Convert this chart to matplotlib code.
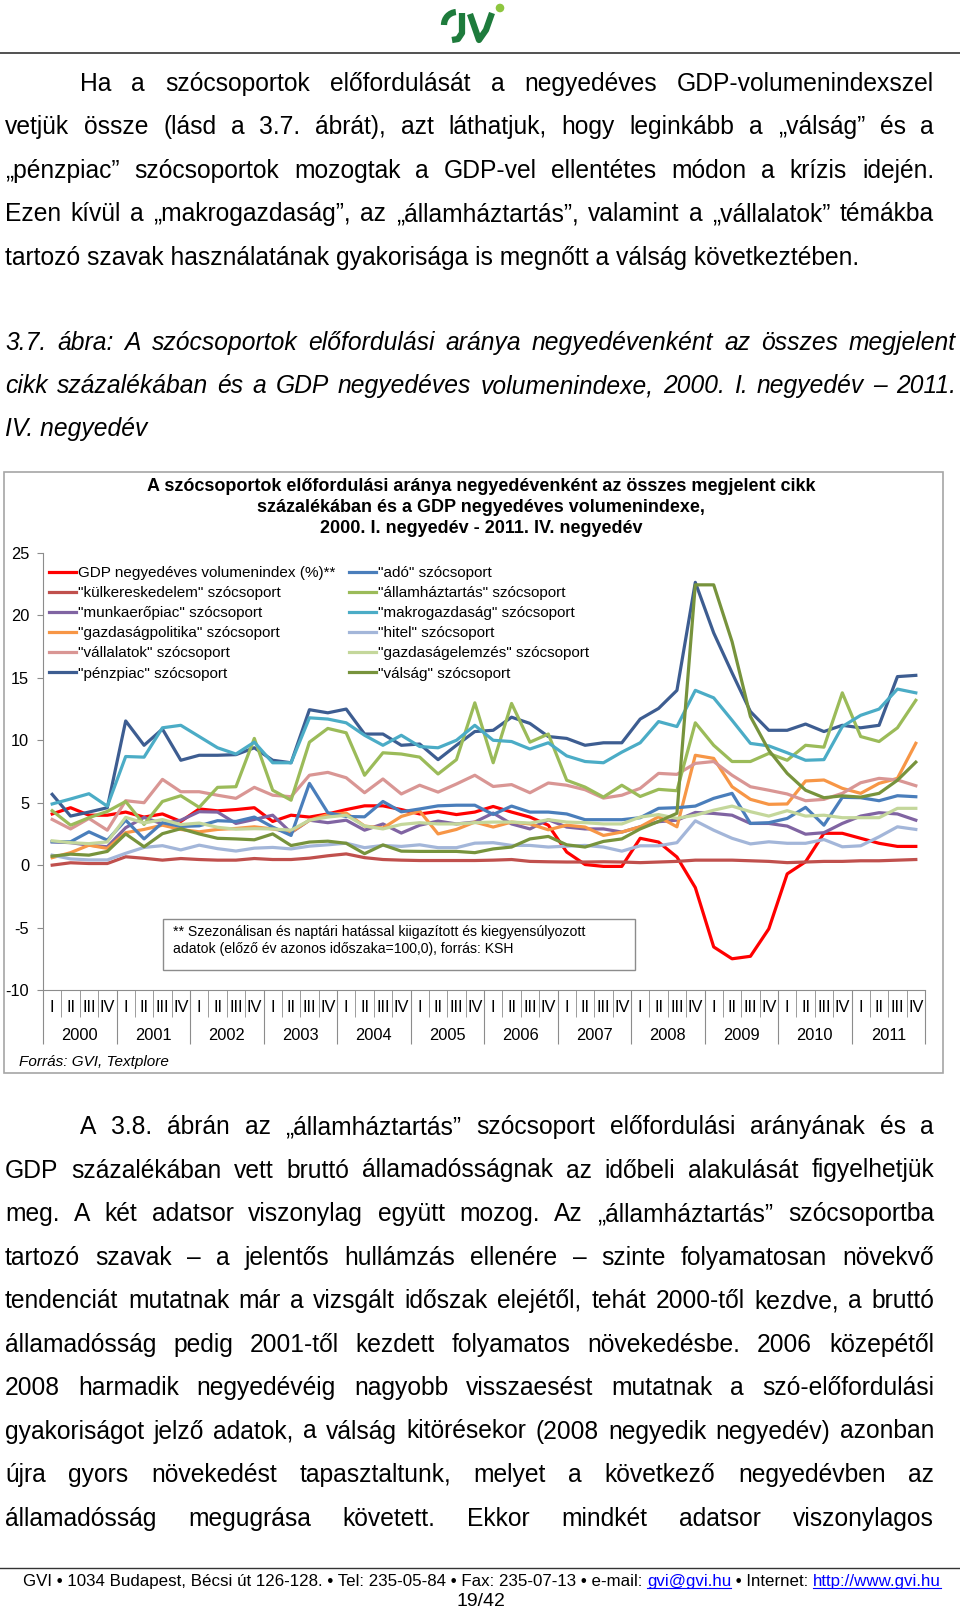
import matplotlib
matplotlib.use('Agg')
import matplotlib.pyplot as plt
from matplotlib.patches import Rectangle, Arc, Circle
from matplotlib.lines import Line2D
import matplotlib.transforms as mtransforms

plt.rcParams['font.family'] = ['Liberation Sans', 'DejaVu Sans']

W, H = 960, 1610

# ---- data ----
quarters = ['I', 'II', 'III', 'IV']
years = [str(y) for y in range(2000, 2012)]

gdp_index = [4.1, 4.6, 4.0, 4.0, 4.25, 3.85, 4.1, 3.5, 4.5, 4.35, 4.45, 4.6, 3.5, 4.0, 3.85, 4.1,
             4.45, 4.75, 4.75, 4.45, 4.1, 4.3, 4.05, 4.25, 4.7, 4.25, 3.85, 3.2, 1.05, 0.05, -0.1, -0.1,
             2.15, 1.85, 0.65, -1.8, -6.55, -7.5, -7.3, -5.1, -0.7, 0.27, 2.55, 2.55, 2.15, 1.75, 1.5, 1.5]
kulker = [0.0, 0.19, 0.13, 0.13, 0.67, 0.55, 0.4, 0.53, 0.45, 0.4, 0.4, 0.53, 0.45, 0.45, 0.56, 0.75,
          0.9, 0.6, 0.45, 0.4, 0.37, 0.37, 0.37, 0.37, 0.4, 0.45, 0.3, 0.27, 0.25, 0.25, 0.27, 0.25,
          0.2, 0.25, 0.3, 0.4, 0.4, 0.4, 0.35, 0.3, 0.2, 0.25, 0.3, 0.3, 0.35, 0.35, 0.4, 0.45]
munkaeropiac = [1.87, 1.8, 1.6, 1.47, 3.0, 3.82, 3.3, 3.6, 4.28, 4.25, 3.34, 3.66, 4.0, 2.6, 3.6, 3.4,
                3.6, 2.8, 3.3, 2.57, 3.2, 3.53, 3.3, 3.45, 4.17, 3.3, 2.9, 3.64, 3.05, 2.9, 2.9, 2.65,
                3.07, 3.48, 3.6, 4.22, 4.14, 4.0, 3.34, 3.34, 3.13, 2.48, 2.6, 3.34, 3.93, 4.2, 4.1, 3.6]
gazdpolitika = [0.6, 1.0, 1.6, 1.34, 2.6, 2.86, 3.2, 2.86, 2.67, 2.86, 2.94, 3.07, 2.9, 2.65, 3.6, 4.05,
                4.17, 3.13, 2.97, 3.9, 4.33, 2.5, 2.86, 3.45, 3.05, 3.45, 3.3, 2.83, 3.2, 3.05, 2.38, 2.65,
                3.07, 3.87, 3.07, 8.8, 8.55, 6.28, 5.27, 4.87, 4.9, 6.74, 6.82, 6.15, 5.75, 6.55, 6.95, 9.76]
vallalatok = [3.66, 2.9, 3.74, 2.8, 5.16, 5.0, 6.87, 5.88, 5.88, 5.6, 5.35, 6.23, 5.6, 5.48, 7.2, 7.43,
              7.0, 5.8, 6.9, 5.7, 6.4, 5.85, 6.5, 7.2, 6.3, 6.45, 5.8, 6.58, 6.4, 6.04, 5.37, 5.6,
              6.15, 7.35, 7.27, 8.15, 8.3, 7.2, 6.28, 6.0, 5.7, 5.16, 5.27, 5.75, 6.6, 6.95, 6.82, 6.36]
penzpiac = [5.67, 3.93, 4.25, 4.6, 11.55, 9.6, 10.9, 8.4, 8.8, 8.8, 8.85, 9.4, 8.4, 8.2, 12.45, 12.2,
            12.5, 10.5, 10.5, 9.6, 9.7, 8.45, 9.6, 10.7, 10.8, 11.85, 11.35, 10.3, 10.15, 9.6, 9.8, 9.8,
            11.7, 12.55, 14.0, 22.65, 18.6, 15.4, 12.3, 10.8, 10.8, 11.3, 10.7, 11.2, 11.0, 11.2, 15.1, 15.2]
ado = [1.87, 1.87, 2.67, 2.0, 3.6, 2.1, 3.4, 3.1, 3.15, 3.56, 3.5, 3.85, 3.05, 2.38, 6.55, 4.2,
       3.9, 3.87, 5.1, 4.27, 4.5, 4.75, 4.8, 4.8, 4.06, 4.73, 4.25, 4.25, 4.1, 3.64, 3.64, 3.64,
       3.8, 4.55, 4.6, 4.73, 5.35, 5.75, 3.34, 3.4, 3.74, 4.63, 3.2, 5.43, 5.4, 5.16, 5.56, 5.48]
allamhaztartas = [4.36, 3.2, 3.8, 4.3, 5.1, 3.26, 5.1, 5.56, 4.63, 6.23, 6.28, 10.15, 6.0, 5.2, 9.85, 10.95,
                  10.6, 7.2, 9.0, 8.9, 8.65, 7.3, 8.45, 13.0, 8.2, 12.95, 9.85, 10.5, 6.8, 6.25, 5.45, 6.4,
                  5.5, 6.07, 5.96, 11.4, 9.6, 8.3, 8.3, 8.95, 8.4, 9.6, 9.45, 13.8, 10.3, 9.9, 11.0, 13.2]
makrogazdasag = [4.9, 5.3, 5.72, 4.72, 8.7, 8.65, 11.0, 11.2, 10.3, 9.4, 8.9, 9.85, 8.2, 8.2, 11.8, 11.7,
                 11.4, 10.4, 9.6, 10.4, 9.5, 9.4, 10.0, 11.2, 10.0, 9.9, 9.3, 9.8, 8.75, 8.3, 8.2, 9.05,
                 9.8, 11.5, 11.1, 14.0, 13.4, 11.6, 9.75, 9.55, 9.0, 8.4, 8.45, 11.1, 12.0, 12.5, 14.1, 13.8]
hitel = [0.8, 0.5, 0.42, 0.42, 0.95, 1.42, 1.56, 1.22, 1.6, 1.32, 1.13, 1.36, 1.42, 1.3, 1.52, 1.63,
         1.76, 1.4, 1.58, 1.5, 1.63, 1.4, 1.4, 1.76, 1.8, 1.58, 1.58, 1.45, 1.52, 1.58, 1.45, 1.12,
         1.55, 1.55, 1.8, 3.55, 2.8, 2.15, 1.7, 1.87, 1.75, 1.75, 2.05, 1.47, 1.55, 2.27, 3.07, 2.86]
gazdelemzes = [1.95, 1.8, 1.72, 1.86, 3.83, 3.37, 3.65, 3.25, 3.37, 3.03, 2.88, 2.92, 2.9, 2.8, 3.6, 3.85,
               4.0, 3.13, 2.9, 3.26, 3.4, 3.3, 3.3, 3.4, 3.45, 3.45, 3.37, 3.64, 3.45, 3.4, 3.3, 3.3,
               3.85, 4.05, 3.75, 4.0, 4.4, 4.73, 4.28, 3.93, 4.36, 3.93, 4.0, 3.8, 3.8, 3.8, 4.55, 4.55]
valsag = [0.72, 0.88, 0.8, 1.1, 2.5, 1.47, 2.52, 2.92, 2.5, 2.15, 2.1, 2.03, 2.5, 1.57, 1.85, 1.92,
          1.75, 0.92, 1.62, 1.12, 1.1, 1.1, 1.1, 1.0, 1.3, 1.45, 2.1, 2.3, 1.63, 1.45, 1.9, 2.1,
          2.9, 3.5, 4.15, 22.45, 22.45, 17.9, 11.9, 9.2, 7.35, 6.0, 5.4, 5.55, 5.45, 5.75, 6.8, 8.25]

series_names = ['GDP negyedéves volumenindex (%)**',
                '"külkereskedelem" szócsoport',
                '"munkaerőpiac" szócsoport',
                '"gazdaságpolitika" szócsoport',
                '"vállalatok" szócsoport',
                '"pénzpiac" szócsoport',
                '"adó" szócsoport',
                '"államháztartás" szócsoport',
                '"makrogazdaság" szócsoport',
                '"hitel" szócsoport',
                '"gazdaságelemzés" szócsoport',
                '"válság" szócsoport']
series_values = [gdp_index, kulker, munkaeropiac, gazdpolitika, vallalatok, penzpiac,
                 ado, allamhaztartas, makrogazdasag, hitel, gazdelemzes, valsag]
colors = ['#FF0000', '#C0504D', '#8064A2', '#F79646', '#D99694', '#3D5D91',
          '#4A7EBB', '#9BBB59', '#4BACC6', '#A3B6D9', '#C4D79B', '#77933C']

para1 = ['Ha a szócsoportok előfordulását a negyedéves GDP-volumenindexszel',
         'vetjük össze (lásd a 3.7. ábrát), azt láthatjuk, hogy leginkább a „válság” és a',
         '„pénzpiac” szócsoportok mozogtak a GDP-vel ellentétes módon a krízis idején.',
         'Ezen kívül a „makrogazdaság”, az „államháztartás”, valamint a „vállalatok” témákba',
         'tartozó szavak használatának gyakorisága is megnőtt a válság következtében.']
caption = ['3.7. ábra: A szócsoportok előfordulási aránya negyedévenként az összes megjelent',
           'cikk százalékában és a GDP negyedéves volumenindexe, 2000. I. negyedév – 2011.',
           'IV. negyedév']
para2 = ['A 3.8. ábrán az „államháztartás” szócsoport előfordulási arányának és a',
         'GDP százalékában vett bruttó államadósságnak az időbeli alakulását figyelhetjük',
         'meg. A két adatsor viszonylag együtt mozog. Az „államháztartás” szócsoportba',
         'tartozó szavak – a jelentős hullámzás ellenére – szinte folyamatosan növekvő',
         'tendenciát mutatnak már a vizsgált időszak elejétől, tehát 2000-től kezdve, a bruttó',
         'államadósság pedig 2001-től kezdett folyamatos növekedésbe. 2006 közepétől',
         '2008 harmadik negyedévéig nagyobb visszaesést mutatnak a szó-előfordulási',
         'gyakoriságot jelző adatok, a válság kitörésekor (2008 negyedik negyedév) azonban',
         'újra gyors növekedést tapasztaltunk, melyet a következő negyedévben az',
         'államadósság megugrása követett. Ekkor mindkét adatsor viszonylagos']
chart_title = ['A szócsoportok előfordulási aránya negyedévenként az összes megjelent cikk',
               'százalékában és a GDP negyedéves volumenindexe,',
               '2000. I. negyedév - 2011. IV. negyedév']
footnote = ['** Szezonálisan és naptári hatással kiigazított és kiegyensúlyozott',
            'adatok (előző év azonos időszaka=100,0), forrás: KSH']

fig = plt.figure(figsize=(W / 100, H / 100), dpi=100)
renderer = fig.canvas.get_renderer()


def px(x, y):
    return x / W, 1 - y / H


def text_width(s, **kw):
    t = fig.text(0, 0, s, **kw)
    wd = t.get_window_extent(renderer).width
    t.remove()
    return wd


def put_line(line, x0, y, x1=None, **kw):
    # x1 given -> justify words between x0 and x1
    if x1 is None:
        fig.text(*px(x0, y), line, va='baseline', **kw)
        return
    words = line.split(' ')
    widths = [text_width(w, **kw) for w in words]
    gap = (x1 - x0 - sum(widths)) / (len(words) - 1)
    x = x0
    for w, wd in zip(words, widths):
        fig.text(*px(x, y), w, va='baseline', **kw)
        x += wd + gap


body = dict(fontsize=17.7, color='black')
tick_fs = 11.8

# ---- header ----
fig.add_artist(Line2D([0, 1], [1 - 53 / H] * 2, color='#333333', lw=1.2))
lax = fig.add_axes([436 / W, 1 - 46 / H, 80 / W, 46 / H])
lax.set_xlim(436, 516)
lax.set_ylim(46, 0)
lax.set_aspect('equal')
lax.axis('off')
dg = '#1E7B3C'
lax.add_patch(Arc((457, 25), 26, 26, theta1=180, theta2=265, lw=4.5, color=dg))
lax.plot([462, 462, 458, 452], [13, 33, 39, 40], color=dg, lw=4.5, solid_capstyle='butt')
lax.plot([470, 479, 486, 492], [14, 40, 30, 13], color=dg, lw=4.5, solid_capstyle='butt')
lax.add_patch(Circle((500, 8), 3.6, color='#8DC63F'))

for i, line in enumerate(para1):
    yc = 84 + i * 43.4
    if i == 0:
        put_line(line, 80, yc + 7, 934, **body)
    elif i < len(para1) - 1:
        put_line(line, 5, yc + 7, 934, **body)
    else:
        put_line(line, 5, yc + 7, **body)

for i, line in enumerate(caption):
    yc = 343 + i * 43.2
    if i < 2:
        put_line(line, 5, yc + 7, 956, style='italic', **body)
    else:
        put_line(line, 5, yc + 7, style='italic', **body)

# ---- chart frame ----
fig.add_artist(Rectangle(px(4, 1073), 939 / W, 601 / H, transform=fig.transFigure,
                         fill=False, edgecolor='#A6A6A6', lw=1.2))
for i, line in enumerate(chart_title):
    fig.text(481 / W, 1 - (486 + i * 21 + 5) / H, line, ha='center', va='baseline',
             fontsize=13, fontweight='bold')

ax = fig.add_axes([43 / W, 1 - 990 / H, 882 / W, 437 / H])
xs = list(range(len(gdp_index)))
for name, vals, col in zip(series_names, series_values, colors):
    ax.plot(xs, vals, color=col, lw=2.3, label=name)

ax.set_xlim(-0.5, len(xs) - 0.5)
ax.set_ylim(-10, 25)
ax.set_yticks(range(-10, 26, 5))
ax.set_yticklabels([str(v) for v in range(-10, 26, 5)])
for s in ['top', 'right']:
    ax.spines[s].set_visible(False)
for s in ['left', 'bottom']:
    ax.spines[s].set_color('#8C8C8C')
ax.tick_params(axis='y', length=4, pad=6, color='#8C8C8C', labelsize=tick_fs)

year_edges = [4 * k - 0.5 for k in range(len(years) + 1)]
q_edges = [i - 0.5 for i in range(len(xs) + 1) if i % 4 != 0]
ax.set_xticks(year_edges)
ax.set_xticks(q_edges, minor=True)
ax.tick_params(axis='x', which='major', length=39, color='#8C8C8C', labelbottom=False)
ax.tick_params(axis='x', which='minor', length=19.5, color='#8C8C8C', labelbottom=False)

trans = mtransforms.blended_transform_factory(ax.transData, ax.transAxes)
for i in xs:
    ax.text(i, -17 / 437, quarters[i % 4], transform=trans, ha='center', va='center',
            fontsize=tick_fs)
for k, yr in enumerate(years):
    ax.text(4 * k + 1.5, -45 / 437, yr, transform=trans, ha='center', va='center',
            fontsize=tick_fs)

h, l = ax.get_legend_handles_labels()
leg_kw = dict(loc='upper left', frameon=False, fontsize=11, handlelength=1.75,
              handletextpad=0.12, labelspacing=0.4, borderaxespad=0, borderpad=0)
leg1 = ax.legend(h[:6], l[:6], bbox_to_anchor=(6 / 882, 1 - 13 / 437), **leg_kw)
ax.add_artist(leg1)
ax.legend(h[6:], l[6:], bbox_to_anchor=(306 / 882, 1 - 13 / 437), **leg_kw)

fig.add_artist(Rectangle(px(163, 970), 472 / W, 51 / H, transform=fig.transFigure,
                         facecolor='white', edgecolor='#8C8C8C', lw=1))
for i, line in enumerate(footnote):
    fig.text(173 / W, 1 - (932 + i * 17 + 4) / H, line, va='baseline', fontsize=10.1)

fig.text(19 / W, 1 - (1061 + 5) / H, 'Forrás: GVI, Textplore', va='baseline',
         fontsize=11, style='italic')

# ---- second paragraph ----
for i, line in enumerate(para2):
    yc = 1127 + i * 43.5
    x0 = 80 if i == 0 else 5
    put_line(line, x0, yc + 7, 934, **body)

# ---- footer ----
fig.add_artist(Line2D([0, 1], [1 - 1568 / H] * 2, color='#333333', lw=1))
foot = [('GVI • 1034 Budapest, Bécsi út 126-128. • Tel: 235-05-84 • Fax: 235-07-13 • e-mail: ', 'black'),
        ('gvi@gvi.hu', '#0000FF'),
        (' • Internet: ', 'black'),
        ('http://www.gvi.hu', '#0000FF')]
fx = 23
fy = 1581 + 5
fs = 12.2
ref = text_width('.', fontsize=fs)
for seg, col in foot:
    fig.text(*px(fx, fy), seg, va='baseline', fontsize=fs, color=col)
    wd = text_width(seg + '.', fontsize=fs) - ref
    if col != 'black':
        fig.add_artist(Line2D([fx / W, (fx + wd) / W], [1 - (fy + 2) / H] * 2, color=col, lw=0.8))
    fx += wd
fig.text(481 / W, 1 - (1600 + 6) / H, '19/42', ha='center', va='baseline', fontsize=14)

fig.savefig('out.png', dpi=100)
